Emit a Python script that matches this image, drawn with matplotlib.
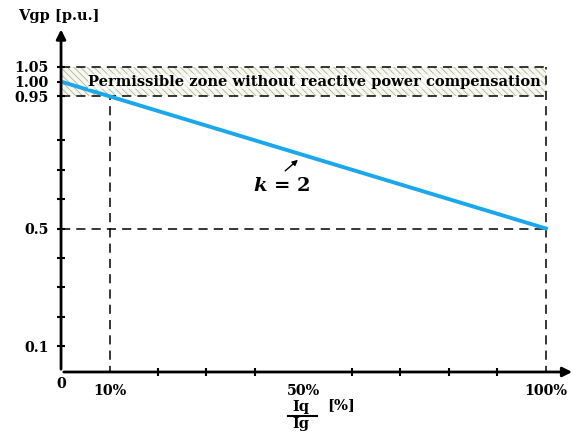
import matplotlib.pyplot as plt

# data
iq_pct = [0, 100]
vgp = [1.00, 0.50]
zone_low, zone_high = 0.95, 1.05
x_major = [10, 50, 100]
x_major_labels = ['10%', '50%', '100%']
x_minor = [20, 30, 40, 60, 70, 80, 90]
y_major = [0.1, 0.5, 0.95, 1.00, 1.05]
y_major_labels = ['0.1', '0.5', '0.95', '1.00', '1.05']
y_minor = [0.2, 0.3, 0.4, 0.6, 0.7, 0.8]

plt.rcParams['font.family'] = 'DejaVu Serif'
plt.rcParams['font.weight'] = 'bold'
plt.rcParams['hatch.linewidth'] = 0.6
plt.rcParams['mathtext.fontset'] = 'custom'
plt.rcParams['mathtext.it'] = 'DejaVu Serif:bold:italic'

fig = plt.figure(figsize=(5.84, 4.33), dpi=100)
ax = fig.add_axes([0.1045, 0.1409, 0.880, 0.7975])
ax.set_xlim(0, 106)
ax.set_ylim(0.0116, 1.187)

# permissible zone
ax.fill_between([0, 100], zone_low, zone_high, facecolor='#f7f7f2',
                edgecolor='#b0b692', hatch='\\\\\\\\\\', linewidth=0, zorder=1)

dash = dict(color='black', lw=1.1, dashes=(6, 4), zorder=2)
ax.plot([0, 100], [zone_high, zone_high], **dash)
ax.plot([0, 100], [zone_low, zone_low], **dash)
ax.plot([0, 100], [vgp[1], vgp[1]], **dash)
ax.plot([100, 100], [0, zone_high], **dash)
ax.plot([10, 10], [0, zone_low], **dash)

ax.plot(iq_pct, vgp, color='#1aa7ec', lw=2.8, zorder=3)

ax.text(52.3, 1.0, 'Permissible zone without reactive power compensation',
        ha='center', va='center', fontsize=10.5, fontweight='bold', zorder=4,
        bbox=dict(facecolor='white', edgecolor='none', pad=0.3, alpha=0.55))

ax.annotate('', xy=(49.3, 0.74), xytext=(45.8, 0.69),
            arrowprops=dict(arrowstyle='-|>', color='black', lw=1, mutation_scale=8))
ax.text(45.5, 0.645, r'$\mathit{k}$ = 2', ha='center', va='center', fontsize=14,
        fontweight='bold')

# axes with arrows
for s in ax.spines.values():
    s.set_visible(False)
ax.annotate('', xy=(1.0, 0), xytext=(0, 0), xycoords='axes fraction',
            arrowprops=dict(arrowstyle='-|>', color='black', lw=2, mutation_scale=14))
ax.annotate('', xy=(0, 1.0), xytext=(0, 0), xycoords='axes fraction',
            arrowprops=dict(arrowstyle='-|>', color='black', lw=2, mutation_scale=14))

ax.set_xticks(x_major)
ax.set_xticklabels(x_major_labels)
ax.set_xticks(x_minor, minor=True)
ax.set_yticks(y_major)
ax.set_yticklabels(y_major_labels)
ax.set_yticks(y_minor, minor=True)
ax.tick_params(which='both', direction='inout', length=6, width=1.5, labelsize=10.3)
ax.tick_params(axis='x', which='major', length=0, pad=9)
ax.tick_params(axis='y', which='major', pad=6)

fig.text(0.1045, 0.113, '0', ha='center', va='center', fontsize=10.3, fontweight='bold')

fig.text(0.031, 0.963, 'Vgp [p.u.]', ha='left', va='center', fontsize=10.5,
         fontweight='bold')

# x label as a stacked fraction Iq / Ig
fig.text(0.516, 0.06, 'Iq', ha='center', va='center', fontsize=10.5, fontweight='bold')
fig.text(0.516, 0.02, 'Ig', ha='center', va='center', fontsize=10.5, fontweight='bold')
fig.add_artist(plt.Line2D([0.494, 0.543], [0.039, 0.039], color='black', lw=1.5))
fig.text(0.56, 0.064, '[%]', ha='left', va='center', fontsize=10.5, fontweight='bold')

fig.savefig('out.png', dpi=100)
